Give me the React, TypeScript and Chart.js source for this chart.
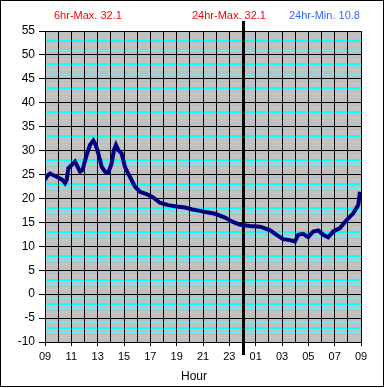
import React, { useEffect, useRef } from "react";
import { Chart, registerables } from "chart.js";

Chart.register(...registerables);

// Hours since 09:00 of day one (24 = midnight, 33 = 09:00 next day)
const hours = [
  9.0, 9.2, 9.38, 9.6, 9.76, 10.14, 10.35, 10.52, 10.65, 10.77, 11.03, 11.28, 11.41, 11.66,
  11.86, 12.0, 12.17, 12.42, 12.67, 12.85, 13.05, 13.31, 13.56, 13.81, 14.06, 14.24, 14.39,
  14.57, 14.82, 15.07, 15.45, 15.83, 16.21, 16.72, 17.22, 17.73, 18.36, 19.0, 19.63, 20.2,
  20.77, 21.3, 21.91, 22.67, 23.27, 23.81, 24.57, 25.33, 26.08, 26.59, 27.09, 27.6, 27.98,
  28.23, 28.61, 28.99, 29.37, 29.75, 30.13, 30.51, 30.89, 31.4, 31.91, 32.41, 32.79, 32.92,
];
const temps = [
  23.9, 24.8, 25.2, 24.9, 24.7, 24.2, 23.8, 23.2, 23.9, 26.3, 27.0, 27.7, 27.0, 25.6,
  26.0, 27.5, 29.1, 31.2, 32.1, 31.2, 29.4, 26.6, 25.6, 25.4, 27.3, 30.1, 31.2,
  30.1, 29.4, 26.6, 24.5, 22.5, 21.4, 20.9, 20.2, 19.1, 18.6, 18.3, 18.1, 17.7,
  17.4, 17.1, 16.8, 16.0, 15.1, 14.5, 14.25, 14.1, 13.4, 12.4, 11.5, 11.3, 11.0,
  12.4, 12.6, 11.9, 13.1, 13.3, 12.4, 11.9, 13.1, 13.8, 15.5, 16.9, 18.6, 21.4,
];

const headerLabels = ["6hr-Max. 32.1", "24hr-Max. 32.1", "24hr-Min. 10.8"];
const headerColors = ["#ff0000", "#ff0000", "#3366ff"];
const headerX = [54, 192, 289];
const xTitle = "Hour";
const midnightHour = 24;
const xMin = 9;
const xMax = 33;
const yMin = -10;
const yMax = 55;

const mod5 = (v: number) => ((Math.round(v) % 5) + 5) % 5;

const decoPlugin = {
  id: "deco",
  beforeDraw(chart: any) {
    const { ctx, chartArea } = chart;
    ctx.save();
    ctx.fillStyle = "#ffffff";
    ctx.fillRect(0, 0, chart.width, chart.height);
    ctx.fillStyle = "#c0c0c0";
    ctx.fillRect(chartArea.left, chartArea.top, chartArea.right - chartArea.left, chartArea.bottom - chartArea.top);
    ctx.restore();
  },
  beforeDatasetsDraw(chart: any) {
    const { ctx } = chart;
    const x = Math.round(chart.scales.x.getPixelForValue(midnightHour));
    ctx.save();
    ctx.fillStyle = "#000000";
    ctx.fillRect(x - 1, 21, 3, 334);
    ctx.restore();
  },
  afterDraw(chart: any) {
    const { ctx } = chart;
    ctx.save();
    ctx.font = "11px 'Liberation Sans', Arial, sans-serif";
    ctx.textBaseline = "alphabetic";
    ctx.textAlign = "left";
    headerLabels.forEach((t, i) => {
      ctx.fillStyle = headerColors[i];
      ctx.fillText(t, headerX[i], 19);
    });
    ctx.fillStyle = "#000000";
    ctx.font = "12px 'Liberation Sans', Arial, sans-serif";
    ctx.textAlign = "center";
    ctx.fillText(xTitle, 194, 380);
    ctx.strokeStyle = "#000000";
    ctx.lineWidth = 1;
    ctx.strokeRect(0.5, 0.5, chart.width - 2, chart.height - 2);
    ctx.restore();
  },
};

export default function App() {
  const ref = useRef<HTMLCanvasElement | null>(null);

  useEffect(() => {
    document.body.style.margin = "0";
    if (!ref.current) return;
    const data = hours.map((h, i) => ({ x: h, y: temps[i] }));
    const chart = new Chart(ref.current, {
      type: "line",
      data: {
        datasets: [
          {
            data,
            borderColor: "#000080",
            backgroundColor: "#000080",
            borderWidth: 4,
            pointRadius: 0,
            tension: 0,
            fill: false,
          },
        ],
      },
      options: {
        animation: false,
        responsive: false,
        devicePixelRatio: 1,
        layout: { padding: { top: 31, right: 24, bottom: 0, left: 0 } },
        plugins: { legend: { display: false }, tooltip: { enabled: false } },
        scales: {
          y: {
            type: "linear",
            min: yMin,
            max: yMax,
            afterFit: (s: any) => {
              s.width = 45;
            },
            border: { color: "#000000", width: 1 },
            grid: {
              color: (c: any) => {
                const m = mod5(c.tick.value);
                if (m === 0) return "#000000";
                if (m === 3) return "#00ffff";
                return "#7ee6ea";
              },
              lineWidth: (c: any) => (mod5(c.tick.value) === 3 ? 2 : 1),
              tickColor: (c: any) => (mod5(c.tick.value) === 0 ? "#000000" : "rgba(0,0,0,0)"),
              tickLength: 6,
            },
            ticks: {
              stepSize: 1,
              autoSkip: false,
              padding: 4,
              color: "#000000",
              font: { family: "'Liberation Sans', Arial, sans-serif", size: 12 },
              callback: (v: any) => (mod5(Number(v)) === 0 ? String(v) : ""),
            },
          },
          x: {
            type: "linear",
            min: xMin,
            max: xMax,
            afterFit: (s: any) => {
              s.height = 46;
            },
            border: { color: "#000000", width: 1 },
            grid: {
              color: "#000000",
              lineWidth: 1,
              tickColor: (c: any) => ((Math.round(c.tick.value) - xMin) % 2 === 0 ? "#000000" : "rgba(0,0,0,0)"),
              tickLength: 4,
            },
            ticks: {
              stepSize: 1,
              autoSkip: false,
              maxRotation: 0,
              padding: 4,
              color: "#000000",
              font: { family: "'Liberation Sans', Arial, sans-serif", size: 11 },
              callback: (v: any) => {
                const h = Math.round(Number(v));
                if ((h - xMin) % 2 !== 0) return "";
                return String(h % 24).padStart(2, "0");
              },
            },
          },
        },
      },
      plugins: [decoPlugin],
    });
    return () => chart.destroy();
  }, []);

  return (
    <div style={{ width: 385, height: 388 }}>
      <canvas ref={ref} width={385} height={388} style={{ display: "block" }} />
    </div>
  );
}
